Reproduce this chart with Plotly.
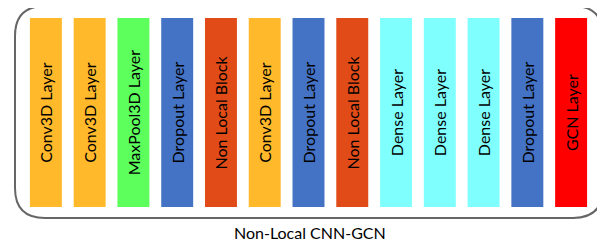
import plotly.graph_objects as go

layers = ["Conv3D Layer", "Conv3D Layer", "MaxPool3D Layer", "Dropout Layer",
          "Non Local Block", "Conv3D Layer", "Dropout Layer", "Non Local Block",
          "Dense Layer", "Dense Layer", "Dense Layer", "Dropout Layer", "GCN Layer"]
heights = [1] * len(layers)
color_map = {
    "Conv3D Layer": "#FFB92B",
    "MaxPool3D Layer": "#5CFF5C",
    "Dropout Layer": "#4472C4",
    "Non Local Block": "#E04B17",
    "Dense Layer": "#80FFFF",
    "GCN Layer": "#FF0000",
}
title_text = "Non-Local CNN-GCN"

positions = list(range(len(layers)))
colors = [color_map[l] for l in layers]

OFF = 8  # page body margin
W, H = 605 - OFF, 242 - OFF
# plot area in screenshot pixels
PL, PR, PT, PB = 24, 593, 18, 207
ml, mr, mt, mb = PL - OFF, (605 - OFF) - (PR - OFF), PT - OFF, (242 - OFF) - (PB - OFF)
pw, ph = PR - PL, PB - PT

FONT = "Lato, Carlito, sans-serif"

fig = go.Figure(go.Bar(
    x=positions, y=heights, text=layers,
    marker=dict(color=colors, line=dict(width=0)),
    width=0.73,
    textposition="inside", insidetextanchor="middle", textangle=-90,
    insidetextfont=dict(family=FONT, size=16, color="black"),
    constraintext="none", hoverinfo="skip", cliponaxis=False,
))

def px_x(p):
    return (p - PL) / pw

def px_y(p):
    return (PB - p) / ph

x0, x1, y0, y1, r = 15, 603, 6, 218, 30
path = (
    f"M {px_x(x0 + r)} {px_y(y0)} L {px_x(x1 - r)} {px_y(y0)} "
    f"Q {px_x(x1)} {px_y(y0)} {px_x(x1)} {px_y(y0 + r)} "
    f"L {px_x(x1)} {px_y(y1 - r)} "
    f"Q {px_x(x1)} {px_y(y1)} {px_x(x1 - r)} {px_y(y1)} "
    f"L {px_x(x0 + r)} {px_y(y1)} "
    f"Q {px_x(x0)} {px_y(y1)} {px_x(x0)} {px_y(y1 - r)} "
    f"L {px_x(x0)} {px_y(y0 + r)} "
    f"Q {px_x(x0)} {px_y(y0)} {px_x(x0 + r)} {px_y(y0)} Z"
)
fig.add_shape(type="path", path=path, xref="paper", yref="paper",
              line=dict(color="#666666", width=2), layer="below")

fig.add_annotation(text=title_text, xref="paper", yref="paper",
                   x=px_x(310), y=px_y(232), showarrow=False,
                   font=dict(family=FONT, size=16, color="black"),
                   xanchor="center", yanchor="middle")

fig.update_layout(
    width=W, height=H, margin=dict(l=ml, r=mr, t=mt, b=mb),
    paper_bgcolor="white", plot_bgcolor="white", showlegend=False,
    xaxis=dict(range=[-0.5, len(layers) - 0.5], visible=False, fixedrange=True),
    yaxis=dict(range=[0, 1], visible=False, fixedrange=True),
)
fig.write_html("out.html", config={"displayModeBar": False})
